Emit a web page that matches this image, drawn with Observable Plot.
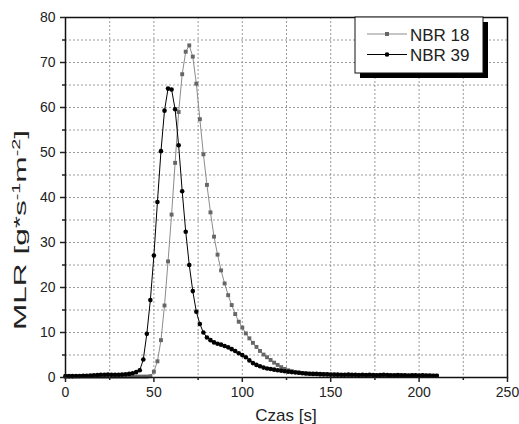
<!DOCTYPE html>
<html>
<head>
<meta charset="utf-8">
<script src="https://cdn.jsdelivr.net/npm/d3@7"></script>
<script src="https://cdn.jsdelivr.net/npm/@observablehq/plot@0.6"></script>
<style>
  html, body { margin: 0; padding: 0; background: #fff; }
  #chart svg { display: block; }
</style>
</head>
<body>
<div id="chart"></div>
<script>
const seriesNames = ["NBR 18", "NBR 39"];
const xLabel = "Czas [s]";
const xMajorTicks = [0, 50, 100, 150, 200, 250];
const xMinorTicks = [25, 75, 125, 175, 225];
const yMajorTicks = [0, 10, 20, 30, 40, 50, 60, 70, 80];
const yMinorTicks = [5, 15, 25, 35, 45, 55, 65, 75];
const xGrid = [25, 50, 75, 100, 125, 150, 175, 200, 225];
const yGrid = [5, 10, 15, 20, 25, 30, 35, 40, 45, 50, 55, 60, 65, 70, 75];

const times = [0,2,4,6,8,10,12,14,16,18,20,22,24,26,28,30,32,34,36,38,40,42,44,46,48,50,52,54,56,58,60,62,64,66,68,70,72,74,76,78,80,82,84,86,88,90,92,94,96,98,100,102,104,106,108,110,112,114,116,118,120,122,124,126,128,130,132,134,136,138,140,142,144,146,148,150,152,154,156,158,160,162,164,166,168,170,172,174,176,178,180,182,184,186,188,190,192,194,196,198,200,202,204,206,208,210];

const nbr18 = [0.2,0.2,0.2,0.2,0.2,0.2,0.2,0.2,0.2,0.2,0.2,0.2,0.2,0.2,0.2,0.2,0.2,0.2,0.2,0.2,0.2,0.2,0.2,0.2,0.3,1.3,3.6,8.3,16.0,25.8,36.2,47.7,59.0,67.4,72.4,73.8,71.3,65.3,57.4,49.6,42.8,36.7,31.3,27.3,23.8,20.9,18.3,16.1,14.1,12.4,11.1,9.8,8.7,7.7,6.8,5.9,5.1,4.5,3.9,3.3,2.8,2.3,1.9,1.6,1.4,1.2,1.1,1.0,0.9,0.85,0.8,0.75,0.7,0.7,0.65,0.6,0.6,0.55,0.55,0.55,0.5,0.55,0.5,0.5,0.5,0.5,0.5,0.45,0.5,0.5,0.45,0.5,0.45,0.45,0.45,0.45,0.45,0.4,0.45,0.45,0.4,0.45,0.4,0.4,0.4,0.4];

const nbr39 = [0.3,0.3,0.3,0.35,0.35,0.4,0.4,0.45,0.5,0.55,0.6,0.6,0.65,0.6,0.6,0.6,0.65,0.7,0.8,0.95,1.2,1.6,4.0,9.7,17.2,27.1,39.0,50.3,59.3,64.2,64.0,59.6,51.6,41.4,32.4,25.0,19.2,14.6,11.9,10.0,8.9,8.3,7.8,7.5,7.3,7.0,6.7,6.3,5.9,5.4,5.0,4.5,3.8,3.2,2.8,2.5,2.2,2.0,1.9,1.75,1.6,1.5,1.4,1.3,1.2,1.1,1.05,0.95,0.9,0.85,0.8,0.8,0.75,0.7,0.7,0.65,0.65,0.65,0.6,0.6,0.65,0.6,0.6,0.55,0.6,0.55,0.6,0.55,0.5,0.55,0.6,0.55,0.5,0.5,0.55,0.5,0.5,0.45,0.5,0.5,0.45,0.5,0.45,0.45,0.4,0.4];

const d18 = times.map((t, i) => ({t, v: nbr18[i]}));
const d39 = times.map((t, i) => ({t, v: nbr39[i]}));

const FONT = "'Liberation Sans', Arial, Helvetica, sans-serif";
const TXT = "#222";

const chart = Plot.plot({
  width: 519,
  height: 424,
  marginLeft: 65,
  marginRight: 12,
  marginTop: 17,
  marginBottom: 47,
  style: {fontFamily: FONT, fontSize: "14px", color: TXT, background: "#fff"},
  x: {domain: [0, 250], label: null},
  y: {domain: [0, 80], label: null},
  marks: [
    Plot.gridX(xGrid, {stroke: "#9a9a9a", strokeOpacity: 1, strokeDasharray: "2,2", strokeWidth: 1}),
    Plot.gridY(yGrid, {stroke: "#9a9a9a", strokeOpacity: 1, strokeDasharray: "2,2", strokeWidth: 1}),
    Plot.line(d18, {x: "t", y: "v", stroke: "#8c8c8c", strokeWidth: 1}),
    Plot.dot(d18, {x: "t", y: "v", symbol: "square", r: 2.2, fill: "#666", stroke: "none"}),
    Plot.line(d39, {x: "t", y: "v", stroke: "#000", strokeWidth: 1}),
    Plot.dot(d39, {x: "t", y: "v", r: 2.3, fill: "#000", stroke: "none"}),
    Plot.frame({stroke: "#111", strokeWidth: 1.5}),
    Plot.axisX(xMajorTicks, {tickSize: 5, tickPadding: 5, strokeWidth: 1.5, fontSize: 14, fill: TXT, label: null}),
    Plot.axisX(xMinorTicks, {tickSize: 3, text: null, strokeWidth: 1.5, label: null}),
    Plot.axisY(yMajorTicks, {tickSize: 5, tickPadding: 5, strokeWidth: 1.5, fontSize: 14, fill: TXT, label: null}),
    Plot.axisY(yMinorTicks, {tickSize: 3, text: null, strokeWidth: 1.5, label: null})
  ]
});

document.getElementById("chart").appendChild(chart);

const svg = d3.select(chart);

// X axis title
svg.append("text")
  .attr("x", 286).attr("y", 421)
  .attr("text-anchor", "middle")
  .attr("font-family", FONT).attr("font-size", 17).attr("fill", TXT)
  .text(xLabel);

// Y axis title with superscripts
const yt = svg.append("text")
  .attr("transform", "translate(25.5,230) rotate(-90)")
  .attr("text-anchor", "middle")
  .attr("font-family", FONT).attr("font-size", 16).attr("fill", TXT)
  .attr("textLength", 200).attr("lengthAdjust", "spacingAndGlyphs");
yt.append("tspan").text("MLR [g*s");
yt.append("tspan").attr("dy", -6).attr("font-size", 10).text("-1");
yt.append("tspan").attr("dy", 6).text("m");
yt.append("tspan").attr("dy", -6).attr("font-size", 10).text("-2");
yt.append("tspan").attr("dy", 6).text("]");

// Legend
const lg = svg.append("g");
lg.append("rect").attr("x", 360).attr("y", 22).attr("width", 128).attr("height", 56).attr("fill", "#000");
lg.append("rect").attr("x", 355).attr("y", 17).attr("width", 128).attr("height", 56)
  .attr("fill", "#fff").attr("stroke", "#111").attr("stroke-width", 1);
const legendRows = [
  {name: seriesNames[0], y: 34, stroke: "#8c8c8c", fill: "#666", sym: "square"},
  {name: seriesNames[1], y: 54.5, stroke: "#000", fill: "#000", sym: "circle"}
];
legendRows.forEach(r => {
  lg.append("line").attr("x1", 367).attr("x2", 407).attr("y1", r.y).attr("y2", r.y)
    .attr("stroke", r.stroke).attr("stroke-width", 1);
  if (r.sym === "square") {
    lg.append("rect").attr("x", 385).attr("y", r.y - 2).attr("width", 4).attr("height", 4).attr("fill", r.fill);
  } else {
    lg.append("circle").attr("cx", 387).attr("cy", r.y).attr("r", 2.3).attr("fill", r.fill);
  }
  lg.append("text").attr("x", 410).attr("y", r.y + 6.5)
    .attr("text-anchor", "start")
    .attr("font-family", FONT).attr("font-size", 17).attr("fill", TXT)
    .text(r.name);
});
</script>
</body>
</html>
